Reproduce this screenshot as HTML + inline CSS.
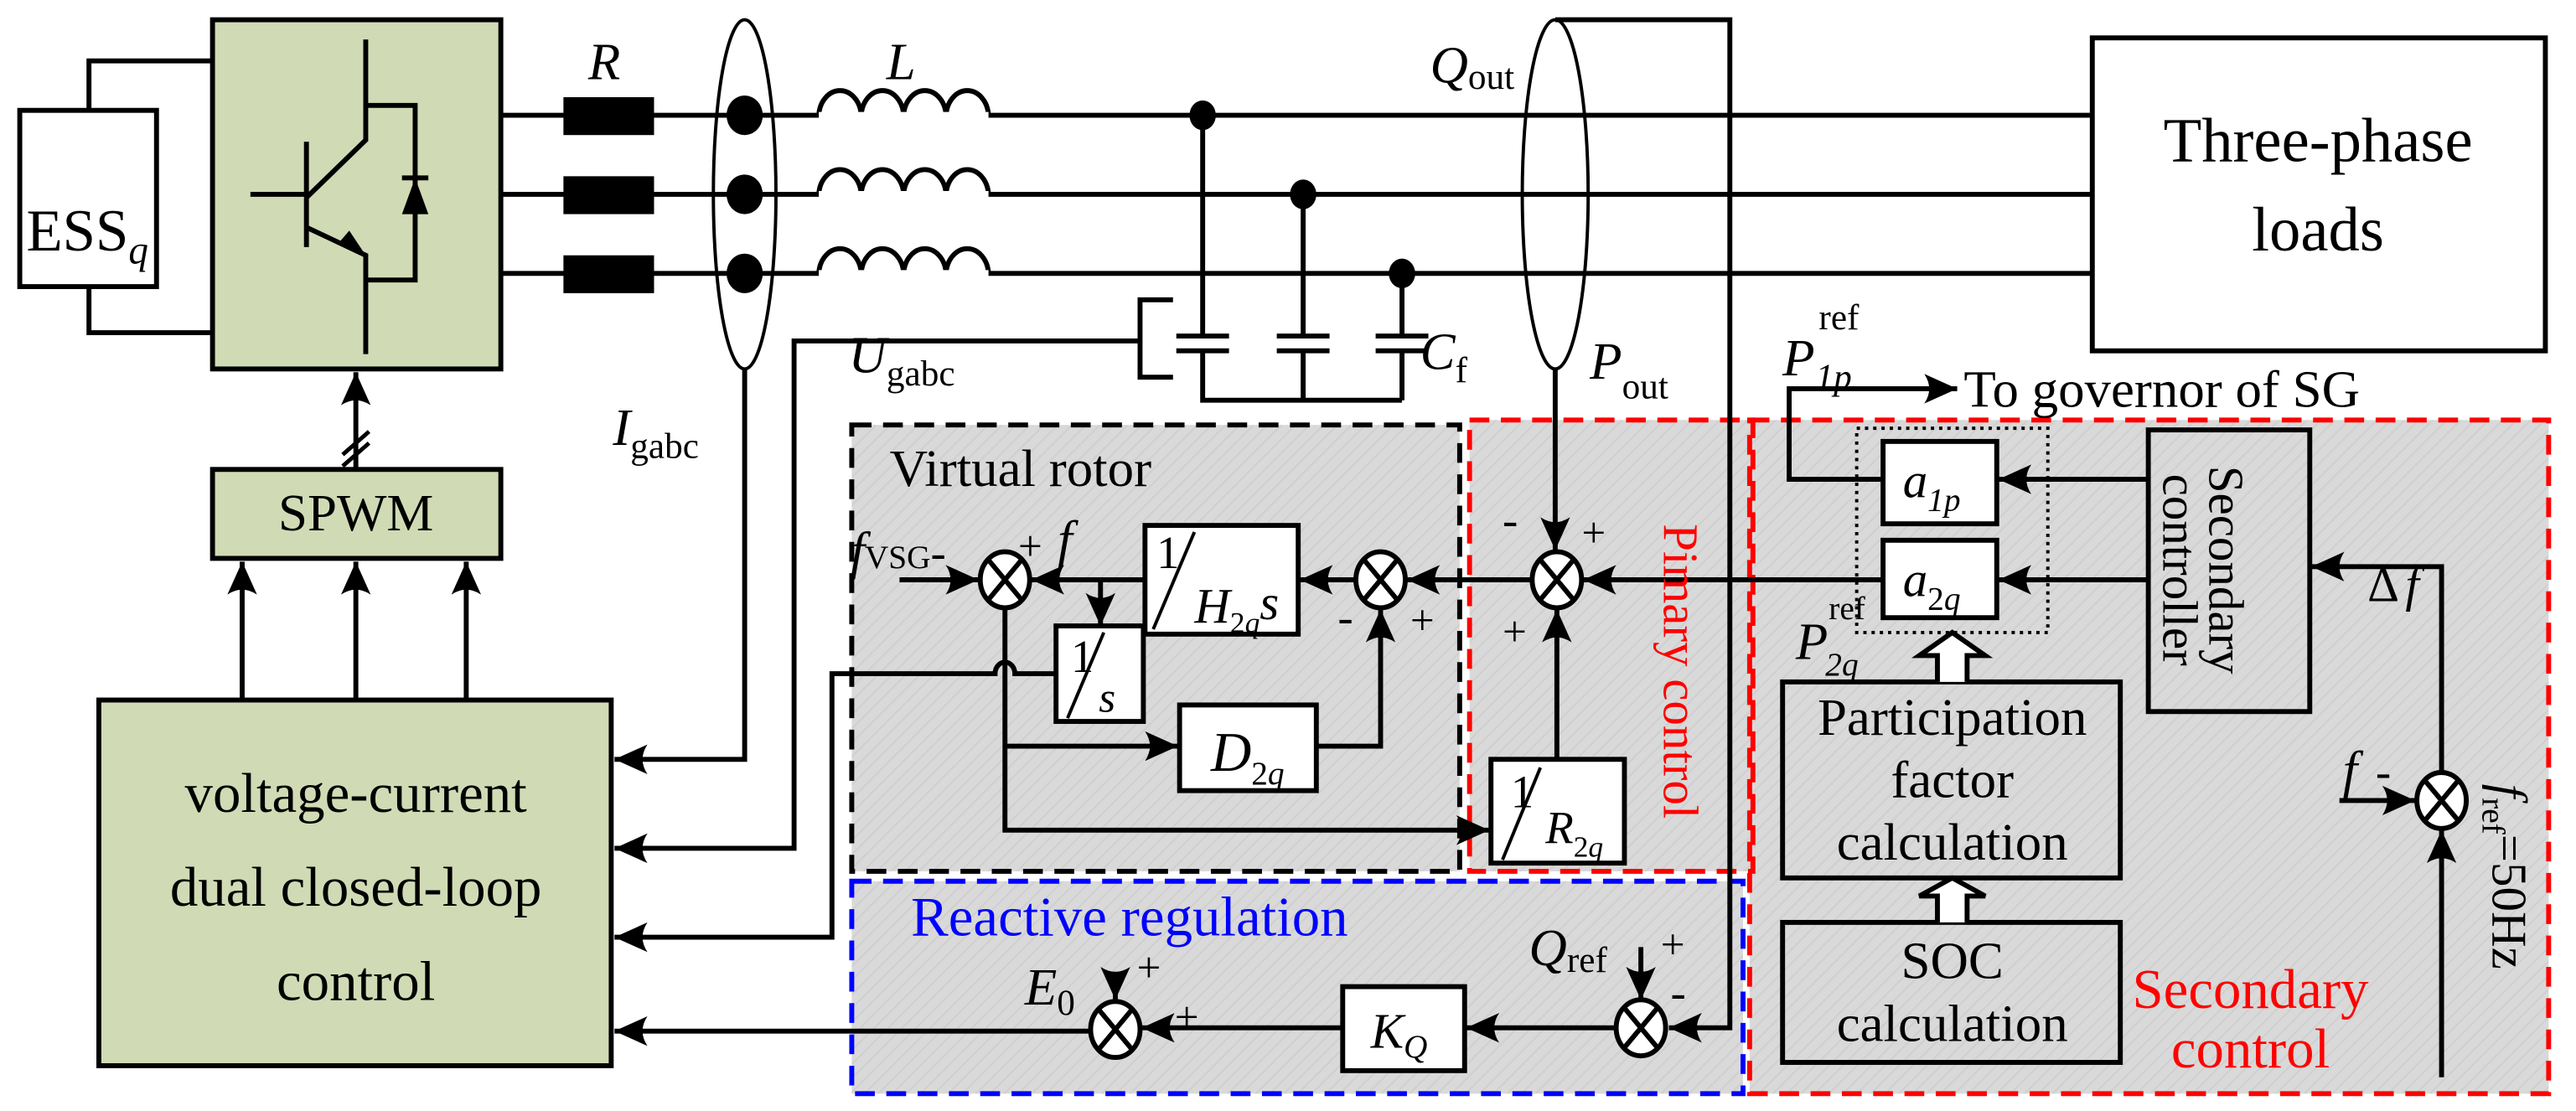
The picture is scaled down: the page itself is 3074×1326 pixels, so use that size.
<!DOCTYPE html>
<html><head><meta charset="utf-8"><style>
html,body{margin:0;padding:0;background:#fff;}
svg{display:block;}
svg text, svg tspan{font-family:"Liberation Serif","Times New Roman","DejaVu Serif",serif !important;}
</style></head><body>
<svg width="3074" height="1326" viewBox="0 0 1563.6 674.5" preserveAspectRatio="none" xmlns="http://www.w3.org/2000/svg" style="font-family:'Liberation Serif','Times New Roman',serif">
<defs>
<pattern id="h" width="6" height="6" patternUnits="userSpaceOnUse" patternTransform="rotate(45)">
<rect width="6" height="6" fill="#d9d9d9"/><line x1="0" y1="0" x2="0" y2="6" stroke="#cfcfcf" stroke-width="2"/>
</pattern>
<marker id="a" markerUnits="userSpaceOnUse" markerWidth="22" markerHeight="18" refX="20" refY="9" orient="auto">
<path d="M0,0 L20,9 L0,18 Q6,9 0,0z" fill="#000"/></marker>
</defs>

<rect x="517" y="258" width="369" height="271" fill="url(#h)"/>
<rect x="892" y="255" width="172" height="274" fill="url(#h)"/>
<rect x="517" y="535" width="541" height="129" fill="url(#h)"/>
<rect x="1062" y="255" width="485" height="409" fill="url(#h)"/>
<rect x="517" y="258" width="369" height="271" fill="none" stroke="#000" stroke-width="3" stroke-dasharray="12,7"/>
<rect x="892" y="255" width="172" height="274" fill="none" stroke="#f00" stroke-width="3" stroke-dasharray="12,7"/>
<rect x="517" y="535" width="541" height="129" fill="none" stroke="#00f" stroke-width="3" stroke-dasharray="12,7"/>
<rect x="1062" y="255" width="485" height="409" fill="none" stroke="#f00" stroke-width="3" stroke-dasharray="12,7"/>

<g stroke="#000" stroke-width="3" fill="none">
<rect x="12" y="67" width="83" height="107" fill="#fff"/>
<path d="M54,67 V37 H129 M54,174 V202 H129"/>
<rect x="129" y="12" width="175" height="212" fill="#d0dbb5"/>
<path d="M222,24 V85 L186,120 M152,118 H186 M186,86 V150 M186,138 L222,155 V215 M222,64 H252 V170 H222"/>
<path d="M244,108 H260"/>
<path d="M304,70 H1270 M304,118 H1270 M304,166 H1270"/>
<rect x="129" y="285" width="175" height="54" fill="#d0dbb5"/>
<path d="M216,285 V226" marker-end="url(#a)"/>
<path d="M208,276 L224,262 M208,283 L224,269" stroke-width="2.5"/>
<rect x="60" y="425" width="311" height="222" fill="#d0dbb5"/>
<path d="M147,425 V341" marker-end="url(#a)"/>
<path d="M216,425 V341" marker-end="url(#a)"/>
<path d="M283,425 V341" marker-end="url(#a)"/>
<ellipse cx="452" cy="118" rx="19" ry="106" stroke-width="2"/>
<ellipse cx="944" cy="118" rx="20" ry="106" stroke-width="2"/>
<path d="M452,224 V461 H373" marker-end="url(#a)"/>
<path d="M692,207 H482 V515 H373" marker-end="url(#a)"/>
<path d="M712,182 H692 V229 H712"/>
<path d="M730,70 V204 M730,213 V243 H851 M791,118 V204 M791,213 V243 M851,166 V204 M851,213 V243"/>
<path d="M714,204 H746 M714,213 H746 M775,204 H807 M775,213 H807 M835,204 H867 M835,213 H867"/>
<path d="M497,70 a12.9,16 0 0 1 25.75,0 a12.9,16 0 0 1 25.75,0 a12.9,16 0 0 1 25.75,0 a12.9,16 0 0 1 25.75,0 M497,118 a12.9,16 0 0 1 25.75,0 a12.9,16 0 0 1 25.75,0 a12.9,16 0 0 1 25.75,0 a12.9,16 0 0 1 25.75,0 M497,166 a12.9,16 0 0 1 25.75,0 a12.9,16 0 0 1 25.75,0 a12.9,16 0 0 1 25.75,0 a12.9,16 0 0 1 25.75,0" fill="#fff"/>
<path d="M497,70 H600 M497,118 H600 M497,166 H600" stroke="#fff" stroke-width="4"/>
<rect x="1270" y="23" width="275" height="190" fill="#fff"/>
<path d="M944,12 H1050 V624 H1013" marker-end="url(#a)"/>
<path d="M944,224 V334" marker-end="url(#a)"/>
<rect x="695" y="319" width="93" height="66" fill="#fff"/>
<rect x="641" y="380" width="53" height="58" fill="#fff"/>
<rect x="716" y="428" width="83" height="52" fill="#fff"/>
<rect x="905" y="461" width="81" height="63" fill="#fff"/>
<rect x="815" y="599" width="74" height="51" fill="#fff"/>
<rect x="1143" y="268" width="69" height="50" fill="#fff"/>
<rect x="1143" y="328" width="69" height="47" fill="#fff"/>
<rect x="1127" y="260" width="116" height="124" stroke-width="2" stroke-dasharray="2,3"/>
<rect x="1304" y="261" width="98" height="171"/>
<rect x="1082" y="414" width="205" height="119"/>
<rect x="1082" y="560" width="205" height="85"/>
<path d="M1176,414 V398 H1165 L1185,384 L1205,398 H1194 V414" fill="#fff"/>
<path d="M1176,560 V544 H1165 L1185,533 L1205,544 H1194 V560" fill="#fff"/>
<path d="M546,352 H594" marker-end="url(#a)"/>
<path d="M695,352 H626" marker-end="url(#a)"/>
<path d="M668,352 V380" marker-end="url(#a)"/>
<path d="M610,369 V504 H904" marker-end="url(#a)"/>
<path d="M610,453 H715" marker-end="url(#a)"/>
<path d="M799,453 H838 V370" marker-end="url(#a)"/>
<path d="M929,352 H854" marker-end="url(#a)"/>
<path d="M822,352 H789" marker-end="url(#a)"/>
<path d="M945,461 V370" marker-end="url(#a)"/>
<path d="M1143,352 H961" marker-end="url(#a)"/>
<path d="M641,409 H616 A6,7 0 0 0 604,409 H505 V569 H373" marker-end="url(#a)"/>
<path d="M996,575 V607" marker-end="url(#a)"/>
<path d="M980,624 H890" marker-end="url(#a)"/>
<path d="M815,624 H693" marker-end="url(#a)"/>
<path d="M677,590 V607" marker-end="url(#a)"/>
<path d="M662,626 H373" marker-end="url(#a)"/>
<path d="M1143,291 H1086 V236 H1188" marker-end="url(#a)"/>
<path d="M1304,291 H1213" marker-end="url(#a)"/>
<path d="M1304,352 H1213" marker-end="url(#a)"/>
<path d="M1482,469 V344 H1403" marker-end="url(#a)"/>
<path d="M1420,486 H1466" marker-end="url(#a)"/>
<path d="M1482,654 V504" marker-end="url(#a)"/>
</g>
<g fill="#000">
<rect x="342" y="59" width="55" height="23"/><rect x="342" y="107" width="55" height="23"/><rect x="342" y="155" width="55" height="23"/>
<ellipse cx="452" cy="70" rx="11" ry="12"/><ellipse cx="452" cy="118" rx="11" ry="12"/><ellipse cx="452" cy="166" rx="11" ry="12"/>
<ellipse cx="730" cy="70" rx="8" ry="9"/><ellipse cx="791" cy="118" rx="8" ry="9"/><ellipse cx="851" cy="166" rx="8" ry="9"/>
<path d="M244,130 L252,108 L260,130z"/>
<path d="M222,155 L212,140 L206,147z"/>
</g>
<g stroke="#000" stroke-width="3" fill="#fff">
<g transform="translate(610,352)"><ellipse rx="15" ry="17"/><path d="M-10,-12 L10,12 M10,-12 L-10,12"/></g>
<g transform="translate(838,352)"><ellipse rx="15" ry="17"/><path d="M-10,-12 L10,12 M10,-12 L-10,12"/></g>
<g transform="translate(945,352)"><ellipse rx="15" ry="17"/><path d="M-10,-12 L10,12 M10,-12 L-10,12"/></g>
<g transform="translate(677,625)"><ellipse rx="15" ry="17"/><path d="M-10,-12 L10,12 M10,-12 L-10,12"/></g>
<g transform="translate(996,624)"><ellipse rx="15" ry="17"/><path d="M-10,-12 L10,12 M10,-12 L-10,12"/></g>
<g transform="translate(1482,486)"><ellipse rx="15" ry="17"/><path d="M-10,-12 L10,12 M10,-12 L-10,12"/></g>
</g>

<g fill="#000" font-size="32" style="font-family:'Liberation Serif','Times New Roman',serif">
<text x="16" y="152" font-size="36">ESS<tspan font-style="italic" font-size="24" dy="8">q</tspan></text>
<text x="357" y="48" font-style="italic">R</text>
<text x="538" y="48" font-style="italic">L</text>
<text x="868" y="50" font-style="italic">Q<tspan font-style="normal" font-size="22" dy="4">out</tspan></text>
<text x="372" y="270" font-style="italic">I<tspan font-style="normal" font-size="22" dy="8">gabc</tspan></text>
<text x="515" y="226" font-style="italic">U<tspan font-style="normal" font-size="22" dy="8">gabc</tspan></text>
<text x="862" y="224" font-style="italic">C<tspan font-style="normal" font-size="22" dy="8">f</tspan></text>
<text x="965" y="230" font-style="italic">P<tspan font-style="normal" font-size="22" dy="12">out</tspan></text>
<text x="1082" y="228" font-style="italic">P</text>
<text x="1104" y="200" font-size="22">ref</text>
<text x="1102" y="236" font-size="22" font-style="italic">1p</text>
<text x="1192" y="247" font-size="32">To governor of SG</text>
<text x="1407" y="98" text-anchor="middle" font-size="38">Three-phase</text>
<text x="1407" y="152" text-anchor="middle" font-size="38">loads</text>
<text x="216" y="322" text-anchor="middle" font-size="32">SPWM</text>
<text x="216" y="493" text-anchor="middle" font-size="34">voltage-current</text>
<text x="216" y="550" text-anchor="middle" font-size="34">dual closed-loop</text>
<text x="216" y="607" text-anchor="middle" font-size="34">control</text>
<text x="540" y="295" font-size="32">Virtual rotor</text>
<text x="516" y="345" font-style="italic">f<tspan font-style="normal" font-size="20">VSG</tspan><tspan font-size="28">-</tspan></text>
<text x="618" y="340" font-size="26">+</text>
<text x="642" y="338" font-style="italic">f</text>
<text x="702" y="345" font-size="28">1</text>
<path d="M700,382 L725,323" stroke="#000" stroke-width="2"/>
<text x="725" y="378" font-style="italic" font-size="30">H<tspan font-size="18" font-style="normal" dy="6">2</tspan><tspan font-size="18" dy="0">q</tspan><tspan dy="-8">s</tspan></text>
<text x="650" y="408" font-size="28">1</text>
<path d="M648,436 L670,384" stroke="#000" stroke-width="2"/>
<text x="667" y="432" font-style="italic" font-size="26">s</text>
<text x="735" y="468" font-style="italic" font-size="34">D<tspan font-size="20" dy="8" font-style="normal">2</tspan><tspan font-size="20" font-style="italic">q</tspan></text>
<text x="812" y="384" font-size="28">-</text>
<text x="856" y="385" font-size="26">+</text>
<text x="912" y="325" font-size="28">-</text>
<text x="960" y="332" font-size="26">+</text>
<text x="912" y="392" font-size="26">+</text>
<text x="917" y="490" font-size="28">1</text>
<path d="M912,522 L935,466" stroke="#000" stroke-width="2"/>
<text x="938" y="512" font-style="italic" font-size="28">R<tspan font-size="18" font-style="normal" dy="8">2</tspan><tspan font-size="18">q</tspan></text>
<text x="553" y="568" fill="#00f" font-size="34">Reactive regulation</text>
<text x="622" y="610" font-style="italic">E<tspan font-style="normal" font-size="22" dy="6">0</tspan></text>
<text x="690" y="596" font-size="26">+</text>
<text x="713" y="626" font-size="26">+</text>
<text x="832" y="636" font-style="italic" font-size="30">K<tspan font-size="20" dy="6">Q</tspan></text>
<text x="928" y="586" font-style="italic">Q<tspan font-style="normal" font-size="22" dy="4">ref</tspan></text>
<text x="1008" y="582" font-size="26">+</text>
<text x="1014" y="612" font-size="28">-</text>
<text x="1155" y="302" font-style="italic" font-size="30">a<tspan font-size="20" dy="8">1p</tspan></text>
<text x="1155" y="362" font-style="italic" font-size="30">a<tspan font-size="20" dy="8" font-style="normal">2</tspan><tspan font-size="20">q</tspan></text>
<text x="1090" y="400" font-style="italic">P</text>
<text x="1110" y="376" font-size="20">ref</text>
<text x="1108" y="410" font-size="20" font-style="italic">2q</text>
<text x="1185" y="446" text-anchor="middle" font-size="32">Participation</text>
<text x="1185" y="484" text-anchor="middle" font-size="32">factor</text>
<text x="1185" y="522" text-anchor="middle" font-size="32">calculation</text>
<text x="1185" y="594" text-anchor="middle" font-size="32">SOC</text>
<text x="1185" y="632" text-anchor="middle" font-size="32">calculation</text>
<text transform="translate(1341,346) rotate(90)" text-anchor="middle" font-size="30">Secondary</text>
<text transform="translate(1313,346) rotate(90)" text-anchor="middle" font-size="30">controller</text>
<text x="1437" y="365" font-size="30">Δ</text><text x="1460" y="365" font-style="italic" font-size="30">f</text>
<text x="1422" y="478" font-style="italic">f</text><text x="1442" y="478" font-size="28">-</text>
<text transform="translate(1513,476) rotate(90)" font-size="30"><tspan font-style="italic">f</tspan><tspan font-size="20" dy="6">ref</tspan><tspan dy="-6">=50Hz</tspan></text>
<text transform="translate(1010,318) rotate(90)" fill="#f00" font-size="30">Pimary control</text>
<text x="1366" y="612" text-anchor="middle" fill="#f00" font-size="34">Secondary</text>
<text x="1366" y="648" text-anchor="middle" fill="#f00" font-size="34">control</text>
</g>
</svg>
</body></html>
